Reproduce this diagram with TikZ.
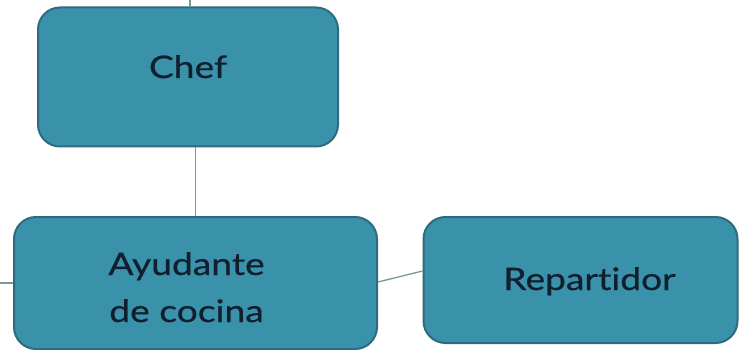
\documentclass[tikz,border=0pt]{standalone}
\usepackage{fontspec}
\setmainfont{Lato}[FakeStretch=1.2,FakeBold=0.6,Ligatures={NoCommon,NoRare}]
\definecolor{boxfill}{RGB}{58,146,170}
\definecolor{boxline}{RGB}{44,108,126}
\definecolor{txt}{RGB}{16,30,46}
\definecolor{conn}{RGB}{120,150,160}
\begin{document}
\begin{tikzpicture}[x=1pt,y=-1pt,
  box/.style={draw=boxline,line width=2pt,fill=boxfill,rounded corners=22pt,
    text=txt,font=\fontsize{31}{48}\selectfont,align=center,inner sep=0pt},
  conn/.style={draw=conn,line width=1.3pt}]
\useasboundingbox (0,0) rectangle (739,350);
\node[box,minimum width=300pt,minimum height=139pt] (chef) at (188,77) {\raisebox{-1pt}[0pt][0pt]{Chef}};
\node[box,minimum width=363pt,minimum height=132pt] (ayu) at (195.5,283) {\hspace*{-18pt}\raisebox{8pt}[0pt][0pt]{\begin{tabular}[t]{@{}c@{}}Ayudante\\[-1pt]de cocina\end{tabular}}};
\node[box,minimum width=314pt,minimum height=126pt] (rep) at (580.5,280) {\hspace{18pt}\raisebox{-10pt}[0pt][0pt]{Repartidor}};
\coordinate (top) at (190,0);
\coordinate (left) at (0,283);
\draw[conn] (top) -- (chef.north -| top);
\draw[conn] (ayu.north) -- (ayu.north |- chef.south);
\draw[conn] (left) -- (ayu.west);
\draw[conn] ([yshift=1pt]ayu.east) -- ([yshift=9pt]rep.west);
\end{tikzpicture}
\end{document}
